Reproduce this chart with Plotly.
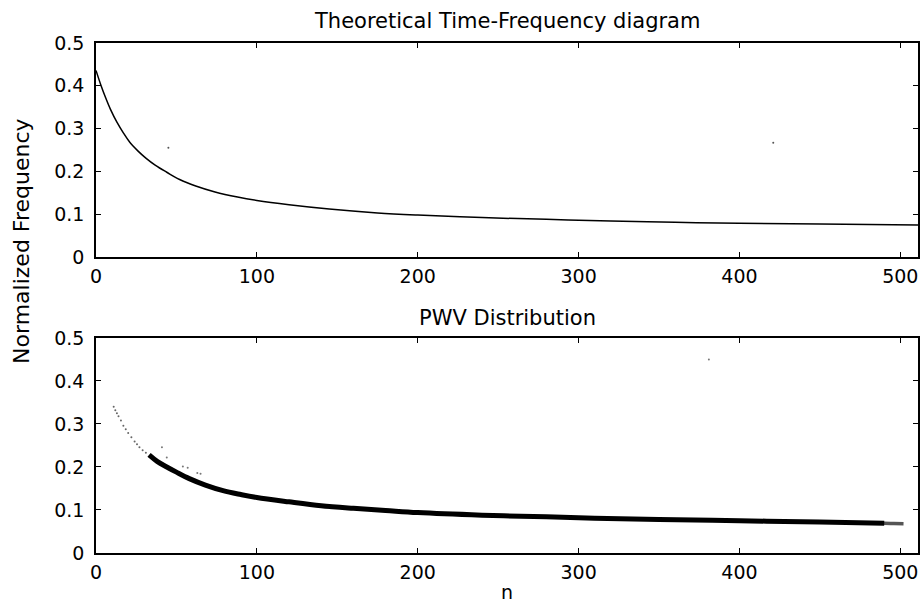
import plotly.graph_objects as go

# ---- data ----
# Theoretical time-frequency law (top panel)
theo_n = [0, 3, 6, 9, 13, 17, 21, 26, 31, 37, 44, 52, 62, 74, 88, 100, 120, 145,
          175, 200, 240, 280, 320, 360, 400, 450, 511]
theo_f = [0.436, 0.402, 0.372, 0.345, 0.315, 0.290, 0.268, 0.248, 0.231, 0.214,
          0.198, 0.181, 0.166, 0.152, 0.140, 0.132, 0.122, 0.112, 0.103, 0.098,
          0.092, 0.088, 0.084, 0.081, 0.079, 0.077, 0.075]

# PWV distribution ridge (bottom panel): dense band
pwv_n = [33, 38, 44, 50, 58, 68, 79, 90, 100, 120, 140, 160, 180, 200, 240, 280,
         310, 350, 400, 450, 490]
pwv_f = [0.228, 0.213, 0.200, 0.188, 0.173, 0.158, 0.145, 0.136, 0.129, 0.119,
         0.110, 0.104, 0.099, 0.094, 0.088, 0.084, 0.081, 0.078, 0.075, 0.072,
         0.069]
# faint tail of the band
tail_n = [485, 490, 496, 502]
tail_f = [0.0695, 0.069, 0.0685, 0.068]
# sparse leading points of the PWV ridge
sparse_n = [11, 12, 13, 14, 15.5, 17, 18.5, 20, 22, 24, 25.5, 27, 29, 31]
sparse_f = [0.340, 0.332, 0.325, 0.318, 0.308, 0.296, 0.288, 0.279, 0.269, 0.259,
            0.253, 0.246, 0.239, 0.233]
# scattered isolated points
stray_n = [41, 44, 54, 57, 63, 65, 381]
stray_f = [0.246, 0.222, 0.201, 0.198, 0.186, 0.184, 0.45]
top_stray_n = [45, 421]
top_stray_f = [0.255, 0.267]

x_ticks = [0, 100, 200, 300, 400, 500]
y_ticks = [0, 0.1, 0.2, 0.3, 0.4, 0.5]
y_ticklabels = ["0", "0.1", "0.2", "0.3", "0.4", "0.5"]

FONT = "DejaVu Sans"

fig = go.Figure()

fig.add_trace(go.Scatter(x=theo_n, y=theo_f, mode="lines", line_shape="spline",
                         line=dict(color="black", width=1.5),
                         xaxis="x", yaxis="y", showlegend=False))
fig.add_trace(go.Scatter(x=top_stray_n, y=top_stray_f, mode="markers",
                         marker=dict(color="#555", size=2),
                         xaxis="x", yaxis="y", showlegend=False))

fig.add_trace(go.Scatter(x=sparse_n, y=sparse_f, mode="markers",
                         marker=dict(color="#666", size=2),
                         xaxis="x2", yaxis="y2", showlegend=False))
fig.add_trace(go.Scatter(x=stray_n, y=stray_f, mode="markers",
                         marker=dict(color="#777", size=2),
                         xaxis="x2", yaxis="y2", showlegend=False))
fig.add_trace(go.Scatter(x=tail_n, y=tail_f, mode="lines", line_shape="spline",
                         line=dict(color="#555", width=3.5),
                         xaxis="x2", yaxis="y2", showlegend=False))
fig.add_trace(go.Scatter(x=pwv_n, y=pwv_f, mode="lines", line_shape="spline",
                         line=dict(color="black", width=5),
                         xaxis="x2", yaxis="y2", showlegend=False))

axis_common = dict(showline=True, linecolor="black", linewidth=1.5, mirror="ticks",
                   ticks="inside", ticklen=5, tickwidth=1, tickcolor="black",
                   showgrid=False, zeroline=False,
                   tickfont=dict(family=FONT, size=19, color="black"))

fig.update_layout(
    width=924, height=605,
    margin=dict(l=96, r=4, t=43, b=52),
    plot_bgcolor="white", paper_bgcolor="white",
    xaxis=dict(domain=[0, 1], range=[0, 511], tickvals=x_ticks, anchor="y",
               ticklabelstandoff=1, **axis_common),
    yaxis=dict(domain=[0.5804, 1], range=[0, 0.5], tickvals=y_ticks,
               ticktext=y_ticklabels, anchor="x", ticklabelstandoff=6, **axis_common),
    xaxis2=dict(domain=[0, 1], range=[0, 511], tickvals=x_ticks, anchor="y2",
                ticklabelstandoff=1, **axis_common),
    yaxis2=dict(domain=[0, 0.4216], range=[0, 0.5], tickvals=y_ticks,
                ticktext=y_ticklabels, anchor="x2", ticklabelstandoff=6, **axis_common),
    annotations=[
        dict(text="Theoretical Time-Frequency diagram", x=0.5, y=1, xref="paper",
             yref="paper", xanchor="center", yanchor="bottom", yshift=8,
             showarrow=False, font=dict(family=FONT, size=21, color="black")),
        dict(text="PWV Distribution", x=0.5, y=0.4216, xref="paper",
             yref="paper", xanchor="center", yanchor="bottom", yshift=6,
             showarrow=False, font=dict(family=FONT, size=21, color="black")),
        dict(text="Normalized Frequency", x=0, y=0.61, xref="paper", yref="paper",
             xshift=-74, xanchor="center", yanchor="middle", textangle=-90,
             showarrow=False, font=dict(family=FONT, size=22, color="black")),
        dict(text="n", x=0.5, y=0, xref="paper", yref="paper", yshift=-39,
             xanchor="center", yanchor="middle",
             showarrow=False, font=dict(family=FONT, size=19, color="black")),
    ],
)

fig.write_html("out.html", config={"displayModeBar": False},
               post_script="document.body.style.margin='0';"
                           "document.body.style.overflow='hidden';")
